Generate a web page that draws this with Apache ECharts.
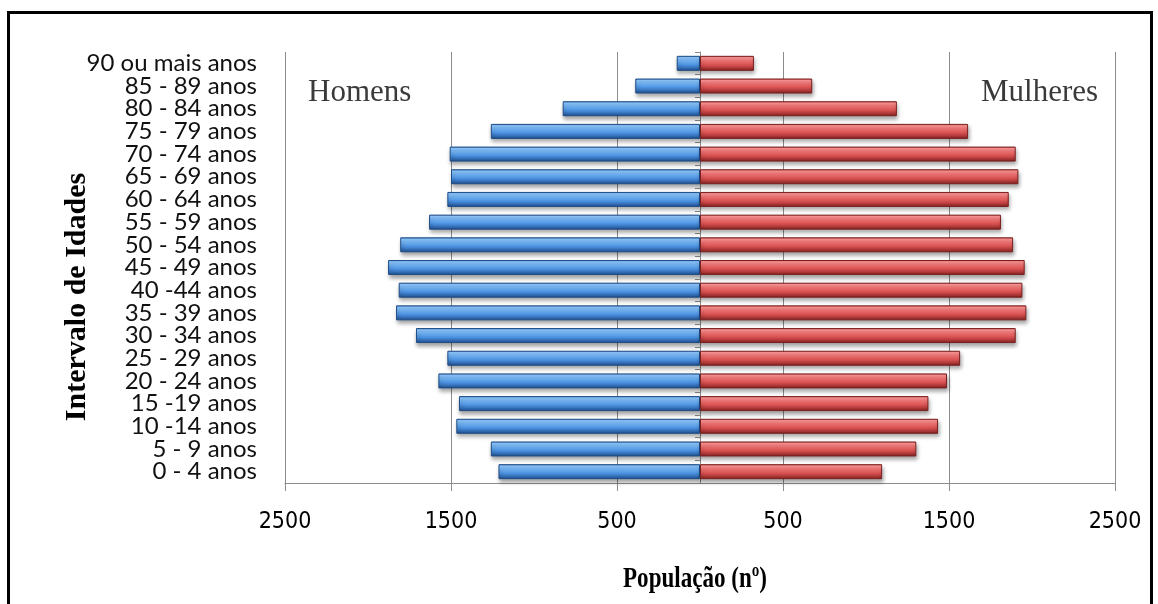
<!DOCTYPE html>
<html>
<head>
<meta charset="utf-8">
<script src="https://cdn.jsdelivr.net/npm/echarts@6/dist/echarts.min.js"></script>
<style>
  html, body { margin: 0; padding: 0; background: #fff; }
  #frame { position: absolute; left: 7px; top: 11px; width: 1146px; height: 640px; border: 3px solid #000; box-sizing: border-box; }
  #chart { position: absolute; left: 0; top: 0; width: 1158px; height: 604px; }
</style>
</head>
<body>
<div id="frame"></div>
<div id="chart"></div>
<script>
// Age groups, youngest first (drawn bottom to top)
const ageGroups = [
  '0 - 4 anos', '5 - 9 anos', '10 -14 anos', '15 -19 anos', '20 - 24 anos',
  '25 - 29 anos', '30 - 34 anos', '35 - 39 anos', '40 -44 anos', '45 - 49 anos',
  '50 - 54 anos', '55 - 59 anos', '60 - 64 anos', '65 - 69 anos', '70 - 74 anos',
  '75 - 79 anos', '80 - 84 anos', '85 - 89 anos', '90 ou mais anos'
];
// Population counts per age group
const homens = [1214, 1260, 1468, 1452, 1576, 1522, 1711, 1831, 1815, 1879,
                1806, 1632, 1522, 1500, 1508, 1260, 827, 390, 140];
const mulheres = [1097, 1303, 1434, 1376, 1488, 1567, 1902, 1966, 1942, 1956,
                  1886, 1813, 1860, 1918, 1902, 1615, 1186, 676, 325];
// Population axis range and step
const popMin = -2500;
const popMax = 2500;
const popStep = 1000;

const chart = echarts.init(document.getElementById('chart'), null, { renderer: 'canvas' });

function bevel(stops) {
  return new echarts.graphic.LinearGradient(0, 0, 0, 1,
    stops.map(s => ({ offset: s[0], color: s[1] })));
}
const blueFill = bevel([[0, '#3f7cc2'], [0.12, '#8ec8ff'], [0.35, '#72b4f6'],
                        [0.6, '#4d93e2'], [0.85, '#2f67ad'], [1, '#1d4a85']]);
const redFill = bevel([[0, '#c24040'], [0.12, '#ff9696'], [0.35, '#f27272'],
                       [0.6, '#d95252'], [0.85, '#a53333'], [1, '#761d1d']]);

const barStyle = (fill, edge) => ({
  color: fill,
  borderColor: edge,
  borderWidth: 1,
  shadowColor: 'rgba(0,0,0,0.35)',
  shadowBlur: 4,
  shadowOffsetX: 1,
  shadowOffsetY: 3
});

chart.setOption({
  animation: false,
  grid: { left: 285, right: 43, top: 52, bottom: 121, containLabel: false },
  xAxis: {
    type: 'value',
    min: popMin,
    max: popMax,
    interval: popStep,
    axisLine: { show: true, onZero: false, lineStyle: { color: '#8c8c8c', width: 1 } },
    axisTick: { show: true, length: 8, lineStyle: { color: '#8c8c8c' } },
    splitLine: { show: true, lineStyle: { color: '#8c8c8c', width: 1 } },
    axisLabel: {
      formatter: v => String(Math.abs(v)),
      color: '#000',
      fontFamily: '"Liberation Sans Narrow", "DejaVu Sans Condensed", sans-serif',
      fontSize: 23,
      margin: 28
    }
  },
  yAxis: [
    {
      type: 'category',
      data: ageGroups,
      position: 'left',
      axisLine: { show: false, onZero: false },
      axisTick: { show: false },
      axisLabel: {
        color: '#111',
        fontFamily: 'Lato, sans-serif',
        fontSize: 24,
        margin: 28,
        interval: 0
      }
    },
    {
      type: 'category',
      data: ageGroups,
      position: 'left',
      axisLine: { show: true, onZero: true, lineStyle: { color: '#8c8c8c' } },
      axisTick: { show: true, length: 5, lineStyle: { color: '#8c8c8c' } },
      axisLabel: { show: false }
    }
  ],
  series: [
    {
      name: 'Homens',
      type: 'bar',
      yAxisIndex: 0,
      data: homens.map(v => -v),
      barWidth: 15,
      barGap: '-100%',
      itemStyle: barStyle(blueFill, '#1f4d86')
    },
    {
      name: 'Mulheres',
      type: 'bar',
      yAxisIndex: 0,
      data: mulheres,
      barWidth: 15,
      barGap: '-100%',
      itemStyle: barStyle(redFill, '#7a2020')
    }
  ],
  graphic: [
    {
      type: 'text', left: 308, top: 77,
      style: { text: 'Homens', fill: '#3a3a3a', font: '31px "Liberation Serif", serif' }
    },
    {
      type: 'text', left: 981, top: 77,
      style: { text: 'Mulheres', fill: '#3a3a3a', font: '31px "Liberation Serif", serif' }
    },
    {
      type: 'text', x: 77, y: 297, rotation: Math.PI / 2,
      style: {
        text: 'Intervalo de Idades', fill: '#000',
        font: 'bold 30px "Liberation Serif", serif',
        textAlign: 'center', textVerticalAlign: 'middle'
      }
    },
    {
      type: 'text', x: 695, y: 579, scaleX: 0.96, scaleY: 1.25,
      style: {
        text: 'População (nº)', fill: '#000',
        font: 'bold 24px "Liberation Serif", serif',
        textAlign: 'center', textVerticalAlign: 'middle'
      }
    }
  ]
});
</script>
</body>
</html>
